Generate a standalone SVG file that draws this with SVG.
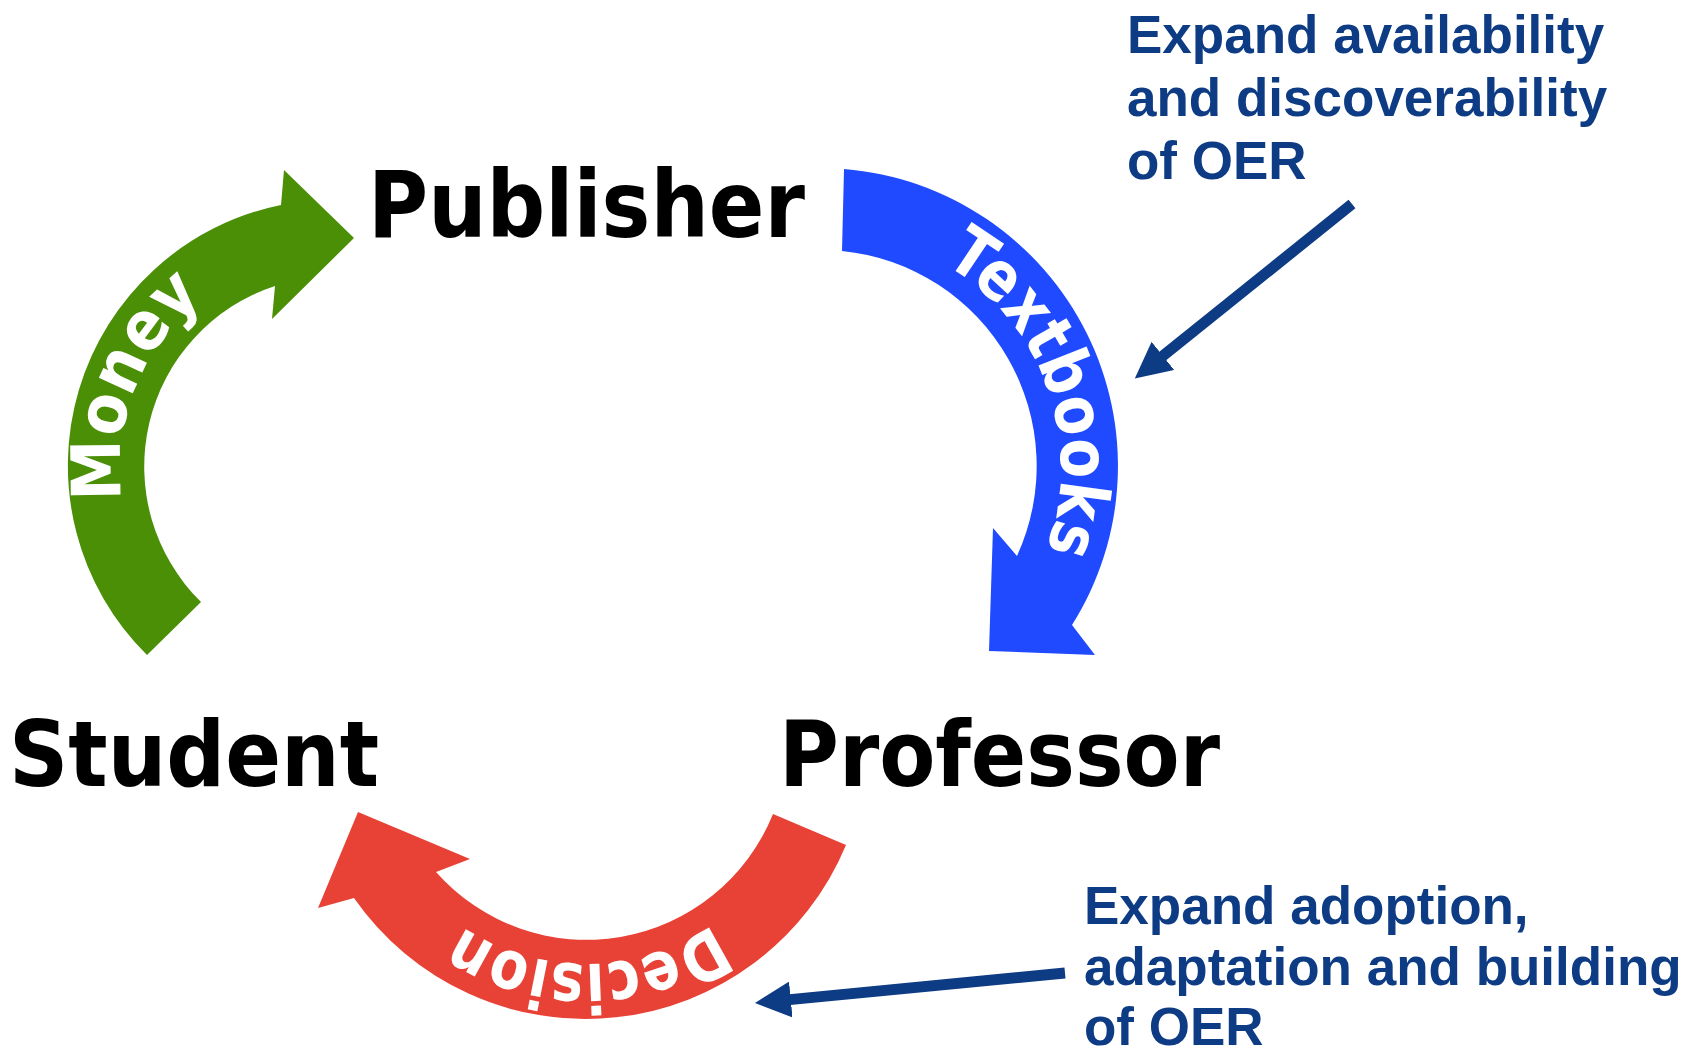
<svg xmlns="http://www.w3.org/2000/svg" xmlns:xlink="http://www.w3.org/1999/xlink" width="1695" height="1056" viewBox="0 0 1695 1056">
<style>
.node{font-family:"DejaVu Sans","Verdana",sans-serif;font-weight:bold;fill:#000;}
.note{font-family:"Liberation Sans",Arial,sans-serif;font-weight:bold;font-size:53px;fill:#0d3b84;}
.lbl{font-family:"DejaVu Sans","Verdana",sans-serif;font-weight:bold;font-size:68px;fill:#fff;}
.ptr{stroke:#0d3b84;stroke-width:11;fill:none;}
</style>
<defs>
<marker id="head" markerUnits="userSpaceOnUse" viewBox="0 0 36 36" markerWidth="36" markerHeight="36" refX="1" refY="18" orient="auto">
<path d="M0,0 L36,18 L0,36 Z" fill="#0d3b84"/>
</marker>
<path id="pMoney" d="M122.6,500 A211,211 0 0 1 225.5,284.3"/>
<path id="pText" d="M943.5,263.5 A235,235 0 0 1 1039,566.3"/>
<path id="pDec" d="M712.8,924 A221,221 0 0 1 443.9,912.3"/>
</defs>
<rect width="1695" height="1056" fill="#fff"/>
<g id="connectors">
<g id="money-arrow">
<path d="M147,655 A266,266 0 0 1 281,205 L284,170 L354,238 L272,319 L275,286 A190,190 0 0 0 201,602 Z" fill="#4b8f07"/>
<text class="lbl"><textPath xlink:href="#pMoney" href="#pMoney" textLength="228" lengthAdjust="spacingAndGlyphs">Money</textPath></text>
</g>
<g id="textbooks-arrow">
<path d="M844,169 A298,298 0 0 1 1072,625 L1095,655 L989,651 L993,528 L1017,556 A216,216 0 0 0 842,251 Z" fill="#1f4aff"/>
<text class="lbl"><textPath xlink:href="#pText" href="#pText" textLength="331" lengthAdjust="spacingAndGlyphs">Textbooks</textPath></text>
</g>
<g id="decision-arrow">
<path d="M846,845 A282,282 0 0 1 354,898 L318,908 L358,812 L470,859 L436,872 A201,201 0 0 0 773,814 Z" fill="#e84135"/>
<text class="lbl"><textPath xlink:href="#pDec" href="#pDec" textLength="266" lengthAdjust="spacingAndGlyphs">Decision</textPath></text>
</g>
<line id="pointer-1" class="ptr" x1="1352" y1="204" x2="1162.1" y2="356.5" marker-end="url(#head)"/>
<line id="pointer-2" class="ptr" x1="1065" y1="973" x2="789.8" y2="999.6" marker-end="url(#head)"/>
</g>
<g id="publisher"><text class="node" x="368" y="237" font-size="92" textLength="437" lengthAdjust="spacingAndGlyphs">Publisher</text></g>
<g id="student"><text class="node" x="9" y="786" font-size="90" textLength="370" lengthAdjust="spacingAndGlyphs">Student</text></g>
<g id="professor"><text class="node" x="779" y="786" font-size="90" textLength="441" lengthAdjust="spacingAndGlyphs">Professor</text></g>
<g id="annotation-1">
<text class="note" x="1127" y="53">Expand availability</text>
<text class="note" x="1127" y="116">and discoverability</text>
<text class="note" x="1127" y="179">of OER</text>
</g>
<g id="annotation-2">
<text class="note" x="1084" y="924">Expand adoption,</text>
<text class="note" x="1084" y="985">adaptation and building</text>
<text class="note" x="1084" y="1045">of OER</text>
</g>
</svg>
